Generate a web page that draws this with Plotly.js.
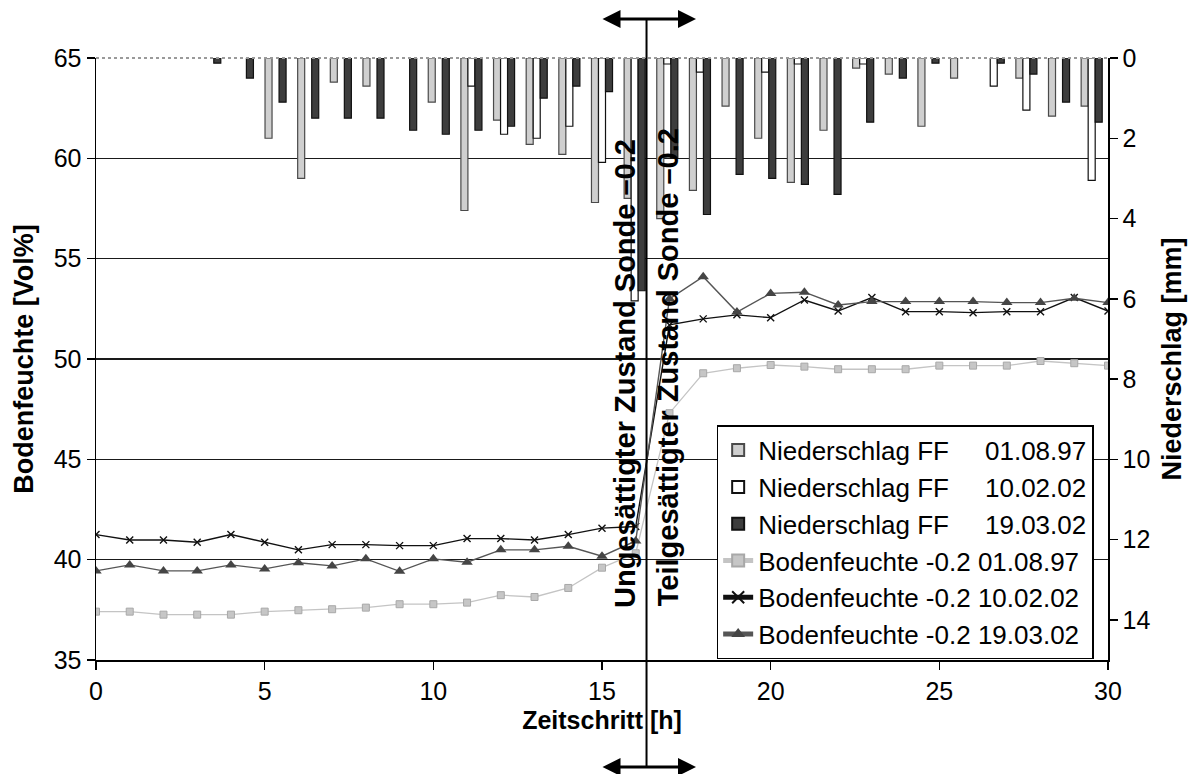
<!DOCTYPE html>
<html>
<head>
<meta charset="utf-8">
<script src="https://cdn.plot.ly/plotly-3.0.1.min.js"></script>
<style>html,body{margin:0;padding:0;background:#fff;}#chart{width:1190px;height:774px;}</style>
</head>
<body>
<div id="chart"></div>
<script>
// ---- data ----
const timeSteps = [0,1,2,3,4,5,6,7,8,9,10,11,12,13,14,15,16,17,18,19,20,21,22,23,24,25,26,27,28,29,30];

// Niederschlag FF [mm] (null = kein Niederschlag)
const rain_010897 = [null,null,null,null,null,2.0,3.0,0.6,0.7,null,1.1,3.8,1.55,2.15,2.4,3.6,3.5,4.0,3.3,1.2,2.0,3.1,1.8,0.25,0.4,1.7,0.5,null,0.5,1.45,1.2];
const rain_100202 = [null,null,null,null,null,null,null,null,null,null,null,0.7,1.9,2.0,1.7,2.6,6.05,0.15,0.35,null,0.35,0.15,null,0.15,null,null,null,0.7,1.3,null,3.05];
const rain_190302 = [null,null,null,0.13,0.5,1.1,1.5,1.5,1.5,1.8,1.9,1.8,1.7,1.0,0.7,0.84,5.8,2.5,3.9,2.9,3.0,3.15,3.4,1.6,0.5,0.13,null,0.13,0.4,1.1,1.6];

// Bodenfeuchte -0.2 [Vol%]
const soil_010897 = [37.41,37.41,37.26,37.26,37.26,37.41,37.48,37.53,37.61,37.78,37.78,37.86,38.23,38.14,38.59,39.6,40.32,47.3,49.29,49.54,49.70,49.62,49.49,49.49,49.49,49.67,49.67,49.67,49.90,49.79,49.67];
const soil_100202 = [41.25,40.98,40.98,40.87,41.25,40.87,40.49,40.75,40.75,40.70,40.70,41.05,41.05,40.98,41.25,41.57,41.65,51.7,52.0,52.2,52.06,52.94,52.39,53.06,52.36,52.36,52.31,52.36,52.36,53.06,52.39];
const soil_190302 = [39.44,39.74,39.44,39.44,39.74,39.54,39.85,39.69,40.04,39.42,40.04,39.87,40.49,40.49,40.67,40.17,40.93,53.0,54.1,52.34,53.27,53.33,52.69,52.86,52.86,52.86,52.86,52.81,52.81,53.03,52.81];

const nbsp = '\u00A0';
const names = [
  'Niederschlag FF' + nbsp.repeat(4) + ' 01.08.97',
  'Niederschlag FF' + nbsp.repeat(4) + ' 10.02.02',
  'Niederschlag FF' + nbsp.repeat(4) + ' 19.03.02',
  'Bodenfeuchte -0.2 01.08.97',
  'Bodenfeuchte -0.2 10.02.02',
  'Bodenfeuchte -0.2 19.03.02'
];

const FONT = 'Liberation Sans, Arial, sans-serif';

const traces = [
  {type:'bar', x:timeSteps, y:rain_010897, name:names[0], xaxis:'x2', yaxis:'y2', legendgroup:'a',
   marker:{color:'#cfcfcf', line:{color:'#4a4a4a', width:1.2}}},
  {type:'bar', x:timeSteps, y:rain_100202, name:names[1], xaxis:'x2', yaxis:'y2', legendgroup:'b',
   marker:{color:'#ffffff', line:{color:'#111111', width:1.2}}},
  {type:'bar', x:timeSteps, y:rain_190302, name:names[2], xaxis:'x2', yaxis:'y2', legendgroup:'c',
   marker:{color:'#3d3d3d', line:{color:'#111111', width:1.2}}},
  {type:'scatter', mode:'lines+markers', x:timeSteps, y:soil_010897, name:names[3], legendgroup:'d',
   line:{color:'#c4c4c4', width:1.3}, marker:{symbol:'square', size:7, color:'#c6c6c6', line:{color:'#a8a8a8', width:1}}},
  {type:'scatter', mode:'lines+markers', x:timeSteps, y:soil_100202, name:names[4], legendgroup:'e',
   line:{color:'#111111', width:1.4}, marker:{symbol:'x-thin', size:7, color:'#111', line:{color:'#111111', width:1.4}}},
  {type:'scatter', mode:'lines+markers', x:timeSteps, y:soil_190302, name:names[5], legendgroup:'f',
   line:{color:'#555555', width:1.4}, marker:{symbol:'triangle-up', size:10, color:'#454545'}}
];

const layout = {
  width:1190, height:774,
  margin:{l:96, r:82, t:58, b:114},
  paper_bgcolor:'#ffffff', plot_bgcolor:'#ffffff',
  font:{family:FONT, size:25, color:'#000'},
  showlegend:true,
  barmode:'group', bargap:0.355, bargroupgap:0,
  xaxis:{range:[0,30], dtick:5, tick0:0, showgrid:false, zeroline:false, showline:true, linecolor:'#000', linewidth:1.5,
         ticks:'outside', ticklen:8, tickwidth:1.5, tickcolor:'#000', tickfont:{size:25, family:FONT},
         title:{text:'<b>Zeitschritt [h]</b>', font:{size:25, family:FONT}, standoff:8}},
  yaxis:{range:[35,65], dtick:5, tick0:35, showgrid:true, gridcolor:'#1a1a1a', gridwidth:1.5, zeroline:false,
         showline:true, linecolor:'#000', linewidth:1.5, ticks:'outside', ticklen:8, tickwidth:1.5, tickcolor:'#000',
         tickfont:{size:25, family:FONT},
         title:{text:'<b>Bodenfeuchte [Vol%]</b>', font:{size:27, family:FONT}, standoff:12}},
  xaxis2:{overlaying:'x', range:[-0.5,30.5], visible:false, anchor:'y2'},
  yaxis2:{overlaying:'y', side:'right', anchor:'x2', range:[15,0], dtick:2, tick0:0, showgrid:false, zeroline:false,
          showline:true, linecolor:'#000', linewidth:1.5, ticks:'outside', ticklen:8, tickwidth:1.5, tickcolor:'#000',
          tickfont:{size:25, family:FONT},
          title:{text:'<b>Niederschlag [mm]</b>', font:{size:27, family:FONT}, standoff:12}},
  legend:{x:0.6133, y:0.390, xanchor:'left', yanchor:'top', bgcolor:'#ffffff', bordercolor:'#000', borderwidth:1.5,
          font:{size:26, family:FONT}, tracegroupgap:0, itemsizing:'constant'},
  shapes:[
    {type:'line', xref:'paper', yref:'paper', x0:0, x1:1, y0:1, y1:1, line:{color:'#9a9a9a', width:2, dash:'dot'}},
    {type:'line', xref:'paper', yref:'paper', x0:0.544, x1:0.544, y0:-0.178, y1:1.065, line:{color:'#000', width:2}}
  ],
  annotations:[
    {xref:'paper', yref:'paper', x:0.5227, y:0.4767, text:'<b>Ungesättigter Zustand Sonde –0.2</b>', textangle:-90,
     showarrow:false, font:{size:29, family:FONT, color:'#000'}},
    {xref:'paper', yref:'paper', x:0.566, y:0.486, text:'<b>Teilgesättigter Zustand Sonde –0.2</b>', textangle:-90,
     showarrow:false, font:{size:29, family:FONT, color:'#000'}},
    {xref:'paper', yref:'paper', x:0.5929, y:1.0648, axref:'pixel', ayref:'pixel', ax:-95, ay:0, text:'',
     showarrow:true, arrowside:'end+start', arrowhead:2, arrowsize:1.2, arrowwidth:3, arrowcolor:'#000'},
    {xref:'paper', yref:'paper', x:0.5929, y:-0.1777, axref:'pixel', ayref:'pixel', ax:-95, ay:0, text:'',
     showarrow:true, arrowside:'end+start', arrowhead:2, arrowsize:1.2, arrowwidth:3, arrowcolor:'#000'}
  ]
};

Plotly.newPlot('chart', traces, layout, {displayModeBar:false, staticPlot:true});
</script>
</body>
</html>
